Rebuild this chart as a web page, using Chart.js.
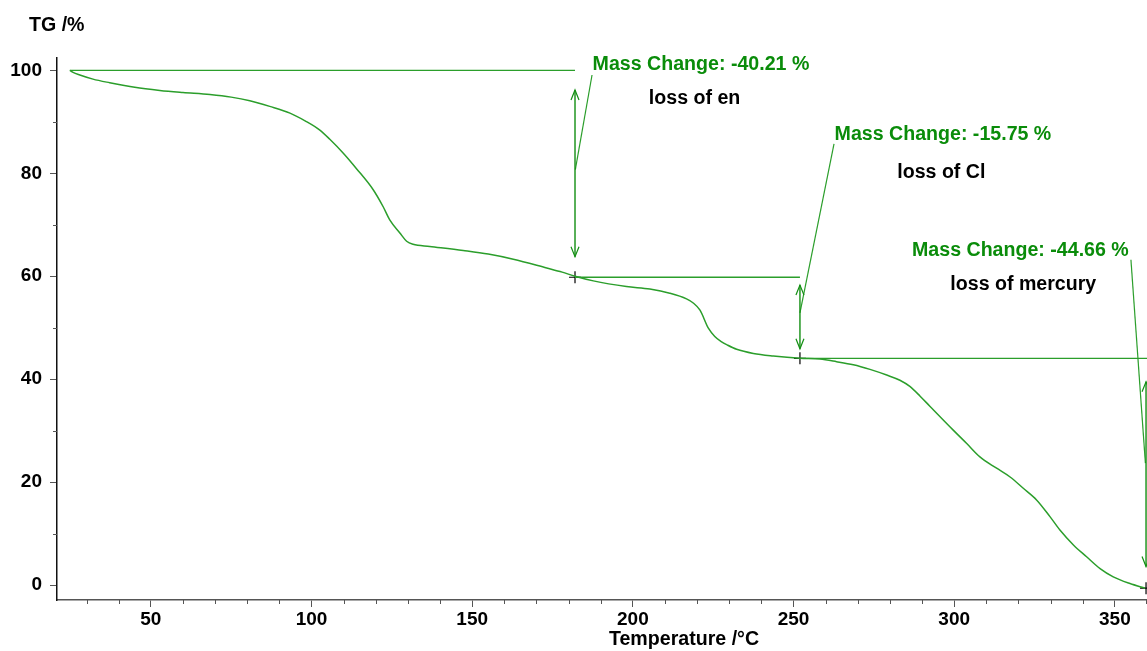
<!DOCTYPE html>
<html><head><meta charset="utf-8">
<script src="https://cdn.jsdelivr.net/npm/chart.js@4/dist/chart.umd.min.js"></script>
<style>html,body{margin:0;padding:0;background:#fff;overflow:hidden}#wrap{width:1147px;height:651px}</style>
</head><body><div id="wrap"><canvas id="c" width="1147" height="651"></canvas></div>
<script>
// ---- data ----
const temperature = [24.8,25.8,27.9,32,37.2,45,52.8,60,68.4,75,80.8,87,93.3,98,102.6,105.7,109.9,114,119.2,122.3,124.4,127.5,129.6,131.6,136.8,147.2,155,162.8,173.2,178,182,187.7,198,205.3,211.5,216.7,218.8,220.9,223.5,225.5,227.5,229.5,232.3,237.5,243.7,252,258.2,263.4,268.6,273.8,279,283.1,286.2,289.4,292.5,299.7,303.9,308,313.2,317.4,321.5,325.7,329.8,332.9,337.1,341.2,345.4,349.5,354.7,359.4];
const massPercent = [100,99.6,99.1,98.3,97.6,96.7,96.1,95.7,95.3,94.8,94.1,93.0,91.7,90.2,88.4,86.6,83.9,80.9,76.8,73.5,70.9,68.4,66.8,66.2,65.8,65.0,64.3,63.3,61.6,60.8,60.0,59.1,58.0,57.5,56.7,55.6,54.8,53.4,49.9,48.3,47.3,46.6,45.8,45.0,44.5,44.05,43.9,43.4,42.8,41.9,40.8,39.8,38.6,36.7,34.7,30.1,27.5,24.9,22.7,21.0,18.8,16.5,13.3,10.7,7.8,5.5,3.2,1.6,0.3,-0.6];
const xTickValues = [50,100,150,200,250,300,350];
const yTickValues = [0,20,40,60,80,100];
const stepMarkerT = [182,252,359.7];
const stepMarkerMass = [59.8,44.05,-0.6];
const levelStartT = [24.8,182,252];
const levelEndT = [182,252,360];
const levelMass = [100,59.8,44.05];
const arrowT = [182,252,359.7];
const arrowTopMass = [96.2,58.3,39.5];
const arrowBottomMass = [63.8,45.9,3.6];
const leaderStartT = [182.1,252,359.5];
const leaderStartMass = [80.7,52.9,23.7];
const leaderEndT = [187.3,262.6,355.0];
const leaderEndMass = [99.1,85.7,63.2];
const massChangeText = ["Mass Change: -40.21 %","Mass Change: -15.75 %","Mass Change: -44.66 %"];
const stepNameText = ["loss of en","loss of Cl","loss of mercury"];

// ---- label placement (in data units) ----
const labelPlace = [
  {t:221.2, m:100.16, nt:219.2, nm:93.45},
  {t:296.5, m:86.45, nt:296.0, nm:79.0},
  {t:320.6, m:63.9, nt:321.5, nm:57.3}
];

const FONT = '"Liberation Sans", Arial, sans-serif';
const GREEN_TXT = '#0a8c0a';
const GREEN_LINE = '#2b9e2b';
const GREEN_ARROW = '#138f13';

const datasets = [];
datasets.push({
  data: temperature.map((t,i)=>({x:t,y:massPercent[i]})),
  showLine:true, borderColor:GREEN_LINE, borderWidth:1.5, pointRadius:0,
  cubicInterpolationMode:'monotone'
});
for (let i=0;i<3;i++){
  datasets.push({data:[{x:levelStartT[i],y:levelMass[i]},{x:levelEndT[i],y:levelMass[i]}],
    showLine:true,borderColor:GREEN_LINE,borderWidth:1.4,pointRadius:0});
  datasets.push({data:[{x:arrowT[i],y:arrowTopMass[i]},{x:arrowT[i],y:arrowBottomMass[i]}],
    showLine:true,borderColor:GREEN_ARROW,borderWidth:1.4,pointRadius:0});
  datasets.push({data:[{x:leaderStartT[i],y:leaderStartMass[i]},{x:leaderEndT[i],y:leaderEndMass[i]}],
    showLine:true,borderColor:GREEN_LINE,borderWidth:1.2,pointRadius:0});
}
datasets.push({data:stepMarkerT.map((t,i)=>({x:t,y:stepMarkerMass[i]})),
  showLine:false,pointStyle:'cross',pointRadius:6,hoverRadius:6,borderColor:'#000',borderWidth:1.2});

const decor = {
  id:'decor',
  afterDatasetsDraw(chart){
    const ctx = chart.ctx, xs = chart.scales.x, ys = chart.scales.y;
    ctx.save();
    ctx.strokeStyle = GREEN_ARROW; ctx.lineWidth = 1.2;
    for (let i=0;i<3;i++){
      const x = xs.getPixelForValue(arrowT[i]);
      const yt = ys.getPixelForValue(arrowTopMass[i]);
      const yb = ys.getPixelForValue(arrowBottomMass[i]);
      ctx.beginPath();
      ctx.moveTo(x-4,yt+10); ctx.lineTo(x,yt); ctx.lineTo(x+4,yt+10);
      ctx.moveTo(x-4,yb-10); ctx.lineTo(x,yb); ctx.lineTo(x+4,yb-10);
      ctx.stroke();
    }
    ctx.font = 'bold 19.6px '+FONT;
    ctx.textAlign = 'center'; ctx.textBaseline = 'alphabetic';
    for (let i=0;i<3;i++){
      const p = labelPlace[i];
      ctx.fillStyle = GREEN_TXT;
      ctx.fillText(massChangeText[i], xs.getPixelForValue(p.t), ys.getPixelForValue(p.m));
      ctx.fillStyle = '#000';
      ctx.fillText(stepNameText[i], xs.getPixelForValue(p.nt), ys.getPixelForValue(p.nm));
    }
    ctx.restore();
  },
  afterDraw(chart){
    const ctx = chart.ctx, xs = chart.scales.x, ys = chart.scales.y, a = chart.chartArea;
    ctx.save();
    ctx.strokeStyle = '#555'; ctx.lineWidth = 1;
    ctx.beginPath();
    for (let t=30;t<=360;t+=10){
      if (t%50===0) continue;
      const x = Math.min(Math.round(xs.getPixelForValue(t))+0.5, a.right-0.5);
      ctx.moveTo(x,a.bottom); ctx.lineTo(x,a.bottom+4);
    }
    for (let m=10;m<=90;m+=20){
      const y = Math.round(ys.getPixelForValue(m))+0.5;
      ctx.moveTo(a.left,y); ctx.lineTo(a.left-4,y);
    }
    ctx.stroke();
    ctx.fillStyle = '#000';
    ctx.font = 'bold 19.6px '+FONT;
    ctx.textBaseline = 'alphabetic';
    ctx.textAlign = 'left';
    ctx.fillText('TG /%', 29, 31);
    ctx.textAlign = 'center';
    ctx.fillText('Temperature /°C', 684, 645);
    ctx.restore();
  }
};

new Chart(document.getElementById('c'), {
  type:'scatter',
  data:{datasets},
  options:{
    responsive:false, animation:false, devicePixelRatio:1,
    layout:{autoPadding:false, padding:{top:58,left:0,right:0,bottom:0}},
    plugins:{legend:{display:false},tooltip:{enabled:false}},
    scales:{
      x:{type:'linear',min:20.8,max:360,
        afterFit(s){s.height=51; s.paddingLeft=0; s.paddingRight=0;},
        afterBuildTicks(s){s.ticks = xTickValues.map(v=>({value:v}));},
        grid:{display:true,drawOnChartArea:false,drawTicks:true,tickLength:7,color:'#555',lineWidth:1},
        border:{display:true,color:'#555',width:1.5},
        ticks:{padding:1,color:'#000',font:{family:FONT,size:19,weight:'bold'},maxRotation:0,autoSkip:false}
      },
      y:{type:'linear',min:-2.9,max:102.4,
        afterFit(s){s.width=57; s.paddingTop=0; s.paddingBottom=0;},
        afterBuildTicks(s){s.ticks = yTickValues.map(v=>({value:v}));},
        grid:{display:true,drawOnChartArea:false,drawTicks:true,tickLength:7,color:'#555',lineWidth:1},
        border:{display:true,color:'#111',width:1.5},
        ticks:{padding:8,color:'#000',font:{family:FONT,size:19,weight:'bold'},autoSkip:false}
      }
    }
  },
  plugins:[decor]
});
</script></body></html>
